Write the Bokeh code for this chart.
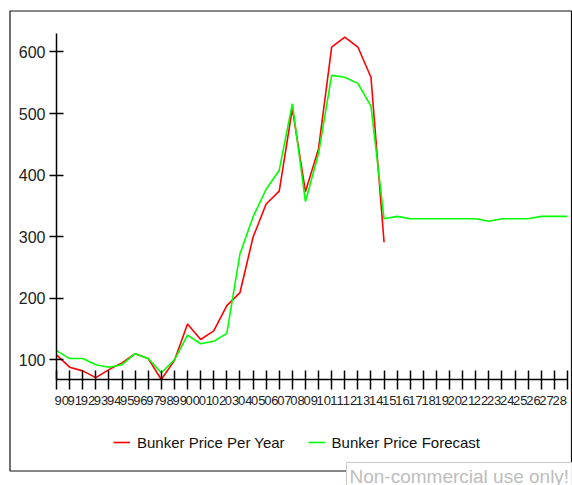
from bokeh.plotting import figure
from bokeh.models import (ColumnDataSource, FixedTicker, Legend, LegendItem,
                          BoxAnnotation, Label, Range1d)
from bokeh.embed import file_html
from bokeh.resources import INLINE

# ---------------- data ----------------
years_actual = list(range(1990, 2016))
price_actual = [108, 88, 82, 71, 84, 95, 110, 102, 68, 99,
                158, 133, 147, 188, 209, 299, 353, 374, 508, 373,
                443, 608, 624, 608, 559, 291]

years_forecast = list(range(1990, 2030))
price_forecast = [115, 102, 102, 92, 88, 92, 110, 102, 79, 100,
                  140, 126, 130, 143, 272, 332, 377, 408, 516, 357,
                  435, 562, 559, 549, 512, 329, 333, 329, 329, 329,
                  329, 329, 329, 325, 329, 329, 329, 333, 333, 333]

tick_years = list(range(1990, 2029))
tick_labels = ["%02d" % (y % 100) for y in tick_years]
y_ticks = [100, 200, 300, 400, 500, 600]

series_names = ["Bunker Price Per Year", "Bunker Price Forecast"]
watermark = "Non-commercial use only!"

FONT = "Liberation Sans"

# ---------------- layout (pixels) ----------------
W, H = 572, 485
X0, X1 = 1990, 2029          # axis extent (data)
Y0, Y1 = 68, 630
AX_L, AX_R = 56.0, 567.0     # pixel position of x-axis ends
AX_T, AX_B = 33.0, 379.0     # pixel position of y-axis ends
sx = (AX_R - AX_L) / (X1 - X0)
sy = (AX_B - AX_T) / (Y1 - Y0)
x_range = Range1d(X0 - AX_L / sx, X1 + (W - AX_R) / sx)
y_range = Range1d(Y0 - (H - AX_B) / sy, Y1 + AX_T / sy)

p = figure(width=W, height=H, output_backend="svg", toolbar_location=None,
           x_range=x_range, y_range=y_range,
           min_border_left=0, min_border_right=0, min_border_top=0,
           min_border_bottom=0)
p.outline_line_color = None
p.grid.visible = False
p.background_fill_color = "white"
p.border_fill_color = "white"

src_a = ColumnDataSource(dict(x=years_actual, y=price_actual))
src_f = ColumnDataSource(dict(x=years_forecast, y=price_forecast))
r_a = p.line("x", "y", source=src_a, line_color="#ff0000", line_width=1.6)
r_f = p.line("x", "y", source=src_f, line_color="#00ff00", line_width=1.6)

# x axis: boundary ticks (minor) + labels offset right (major, no marks)
label_pos = [y + 0.4 for y in tick_years]
xa = p.xaxis[0]
xa.fixed_location = Y0
xa.bounds = (X0, X1)
xa.ticker = FixedTicker(ticks=label_pos, minor_ticks=years_forecast)
xa.major_label_overrides = {pos: lab for pos, lab in zip(label_pos, tick_labels)}
xa.major_tick_in = 0
xa.major_tick_out = 0
xa.minor_tick_in = 9
xa.minor_tick_out = 10
xa.minor_tick_line_color = "black"
xa.minor_tick_line_width = 1.5
xa.axis_line_color = "black"
xa.axis_line_width = 1.5
xa.major_label_standoff = 6
xa.major_label_text_font = FONT
xa.major_label_text_font_size = "13px"
xa.major_label_text_color = "#222222"

ya = p.yaxis[0]
ya.fixed_location = X0
ya.bounds = (Y0, Y1)
ya.ticker = FixedTicker(ticks=y_ticks, minor_ticks=[])
ya.major_tick_in = 7
ya.major_tick_out = 7
ya.major_tick_line_width = 1.5
ya.axis_line_width = 1.5
ya.axis_line_color = "black"
ya.major_tick_line_color = "black"
ya.major_label_standoff = 4
ya.major_label_text_font = FONT
ya.major_label_text_font_size = "16px"
ya.major_label_text_color = "#222222"

legend = Legend(items=[LegendItem(label=series_names[0], renderers=[r_a]),
                       LegendItem(label=series_names[1], renderers=[r_f])],
                orientation="horizontal", location=(113, 33),
                border_line_color=None, background_fill_alpha=0,
                padding=0, margin=0, spacing=23, glyph_width=17,
                label_standoff=7, label_text_font=FONT,
                label_text_font_size="15px", label_text_color="#111111")
p.add_layout(legend)

border = BoxAnnotation(left=9.5, right=571, top=10.5, bottom=470.5,
                       left_units="canvas", right_units="canvas",
                       top_units="canvas", bottom_units="canvas",
                       fill_alpha=0, line_color="#111111", line_alpha=1.0,
                       line_width=1.2, level="overlay", editable=False)
p.add_layout(border)

wm = Label(x=346, y=462, x_units="canvas", y_units="canvas", text=watermark,
           text_font=FONT, text_font_size="19px", text_color="#bdbdbd",
           text_align="left", text_baseline="top",
           background_fill_color="white", border_line_color="#c8c8c8",
           padding=3, level="overlay")
p.add_layout(wm)

open("out.html", "w").write(file_html(p, INLINE))
